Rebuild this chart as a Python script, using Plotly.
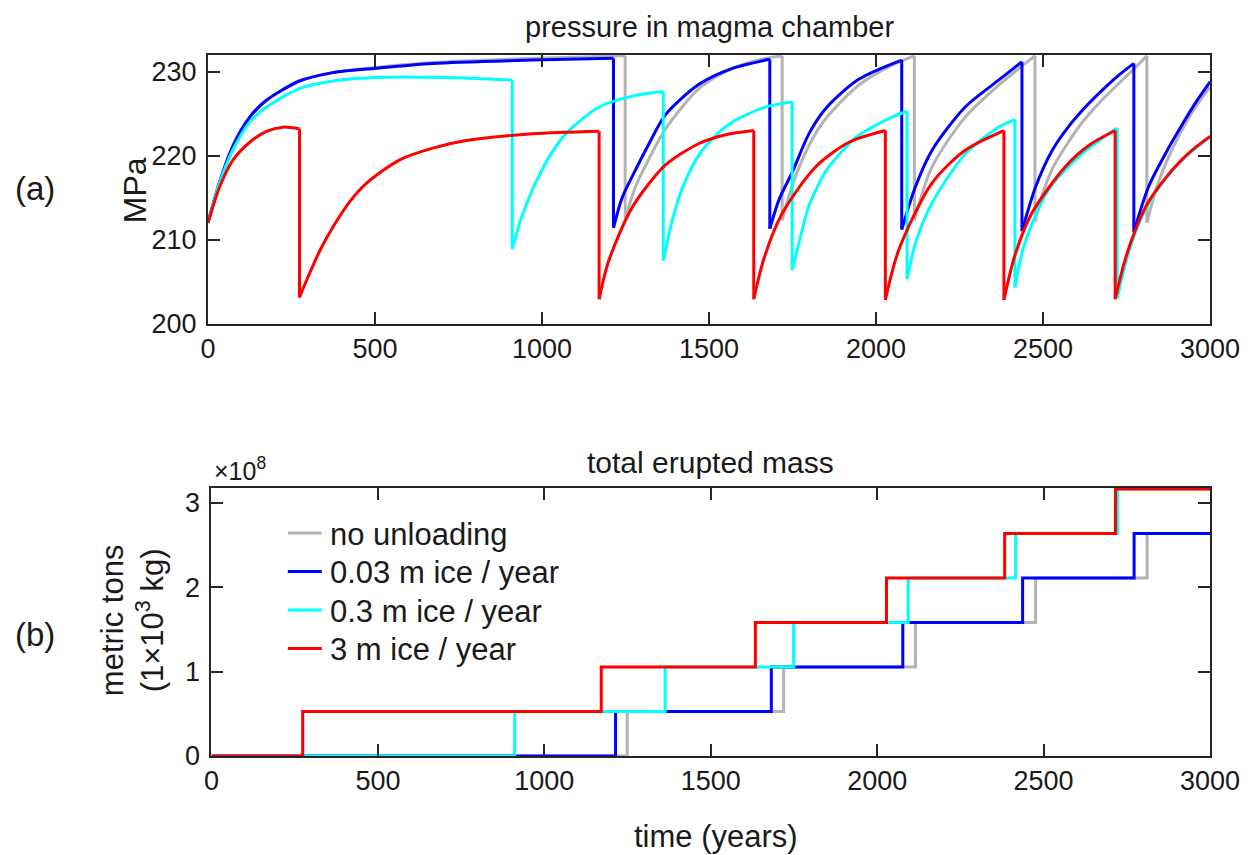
import plotly.graph_objects as go

# ---------------- data ----------------
series_names = ["no unloading", "0.03 m ice / year", "0.3 m ice / year", "3 m ice / year"]
series_colors = ["#b3b3b3", "#0000ff", "#00ffff", "#ff0000"]

# pressure (MPa) segments between eruptions
gray_seg_t = [
    [0, 35, 76, 125, 175, 274, 374, 498, 673, 972, 1249],
    [1249, 1280, 1320, 1370, 1470, 1570, 1669, 1719],
    [1719, 1750, 1799, 1849, 1948, 2048, 2115],
    [2115, 2167, 2267, 2367, 2476],
    [2476, 2500, 2530, 2566, 2616, 2666, 2716, 2766, 2811],
    [2811, 2840, 2870, 2910, 2955, 3000],
]
gray_seg_p = [
    [212.0, 216.9, 221.3, 224.6, 226.6, 228.9, 229.9, 230.5, 231.1, 231.6, 231.9],
    [212.5, 216.3, 219.6, 223.2, 228.0, 230.4, 231.6, 231.9],
    [212.3, 216.5, 221.2, 224.4, 228.4, 230.8, 231.9],
    [212.3, 218.6, 224.6, 228.4, 231.9],
    [212.1, 215.6, 218.6, 221.0, 223.9, 226.2, 228.2, 230.1, 231.9],
    [212.0, 216.2, 219.3, 222.6, 225.7, 228.2],
]
blue_seg_t = [
    [0, 35, 76, 125, 175, 274, 374, 498, 673, 972, 1214],
    [1214, 1240, 1271, 1320, 1370, 1470, 1570, 1682],
    [1682, 1710, 1749, 1799, 1849, 1948, 2077],
    [2077, 2118, 2167, 2267, 2367, 2437],
    [2437, 2478, 2527, 2577, 2627, 2680, 2727, 2772],
    [2772, 2816, 2866, 2915, 2960, 3000],
]
blue_seg_p = [
    [212.0, 216.9, 221.3, 224.6, 226.6, 228.9, 229.9, 230.4, 231.0, 231.4, 231.6],
    [211.4, 215.0, 217.6, 221.4, 224.9, 228.5, 230.4, 231.5],
    [211.3, 214.8, 218.0, 222.6, 225.6, 229.1, 231.4],
    [211.2, 216.3, 220.6, 225.8, 229.0, 231.2],
    [211.0, 216.3, 220.6, 223.5, 225.8, 227.9, 229.6, 231.0],
    [210.9, 216.3, 220.2, 223.6, 226.5, 228.8],
]
cyan_seg_t = [
    [0, 35, 76, 125, 175, 274, 374, 524, 673, 800, 911],
    [911, 940, 972, 1021, 1071, 1171, 1271, 1363],
    [1363, 1390, 1420, 1470, 1520, 1570, 1669, 1749],
    [1749, 1775, 1799, 1849, 1900, 1948, 2048, 2093],
    [2093, 2120, 2167, 2267, 2367, 2416],
    [2416, 2445, 2516, 2616, 2722],
    [2722, 2750, 2785, 2816, 2866, 2915, 2960, 3000],
]
cyan_seg_p = [
    [212.0, 216.8, 220.8, 224.0, 225.8, 228.0, 228.9, 229.35, 229.35, 229.2, 229.0],
    [208.9, 212.8, 216.0, 219.8, 222.6, 225.8, 227.1, 227.65],
    [207.5, 212.3, 216.1, 220.1, 222.4, 224.0, 225.8, 226.4],
    [206.4, 210.5, 214.0, 218.1, 220.6, 222.4, 224.6, 225.3],
    [205.3, 209.8, 214.3, 220.2, 223.4, 224.3],
    [204.3, 209.5, 215.9, 220.2, 223.3],
    [203.0, 207.6, 211.7, 214.3, 217.2, 219.4, 221.0, 222.2],
]
red_seg_t = [
    [0, 35, 75, 125, 175, 225, 274],
    [274, 300, 335, 374, 424, 474, 574, 673, 773, 972, 1171],
    [1171, 1200, 1271, 1370, 1470, 1550, 1634],
    [1634, 1665, 1719, 1819, 1919, 2028],
    [2028, 2068, 2167, 2267, 2383],
    [2383, 2415, 2466, 2566, 2640, 2716],
    [2716, 2745, 2780, 2816, 2866, 2915, 2960, 3000],
]
red_seg_p = [
    [212.0, 216.3, 219.5, 221.6, 222.9, 223.4, 223.2],
    [203.1, 205.6, 208.7, 211.5, 214.5, 216.7, 219.5, 220.9, 221.8, 222.6, 222.9],
    [202.9, 207.5, 213.9, 218.9, 221.45, 222.5, 223.0],
    [202.9, 207.8, 213.1, 218.65, 221.6, 223.0],
    [202.8, 208.75, 216.7, 220.65, 223.0],
    [202.8, 208.0, 213.1, 218.65, 221.3, 223.0],
    [202.9, 207.5, 211.5, 214.5, 217.3, 219.5, 221.1, 222.3],
]

# cumulative erupted mass (metric tons)
gray_erupt_t = [1249, 1719, 2115, 2476, 2811]
blue_erupt_t = [1214, 1682, 2077, 2437, 2772]
cyan_erupt_t = [911, 1363, 1749, 2093, 2416, 2722]
red_erupt_t = [274, 1171, 1634, 2028, 2383, 2716]
mass_levels = [0.527e8, 1.054e8, 1.581e8, 2.108e8, 2.636e8, 3.163e8]

t_start, t_end = 0, 3000

# ---------------- figure ----------------
OFF = 8  # page body margin
W, H = 1252 - OFF, 855 - OFF
ML, MT = 208 - OFF, 55 - OFF
MR = W - (1212 - OFF)
MB = H - (756 - OFF)
PW, PH = W - ML - MR, H - MT - MB


def px(x):  # reference page pixel -> paper x
    return (x - OFF - ML) / PW


def py(y):  # reference page pixel -> paper y
    return (H - MB - (y - OFF)) / PH


fig = go.Figure()
all_t = [gray_seg_t, blue_seg_t, cyan_seg_t, red_seg_t]
all_p = [gray_seg_p, blue_seg_p, cyan_seg_p, red_seg_p]
all_e = [gray_erupt_t, blue_erupt_t, cyan_erupt_t, red_erupt_t]
LW = 3

for name, col, segt, segp in zip(series_names, series_colors, all_t, all_p):
    xs, ys = [], []
    for st, sp in zip(segt, segp):
        xs += st + [None]
        ys += sp + [None]
    fig.add_trace(go.Scatter(x=xs, y=ys, mode="lines", line=dict(color=col, width=LW, shape="spline", smoothing=0.8),
                             showlegend=False, hoverinfo="skip", xaxis="x", yaxis="y"))
    dx, dy = [], []
    for k in range(len(segt) - 1):
        dx += [segt[k][-1], segt[k + 1][0], None]
        dy += [segp[k][-1], segp[k + 1][0], None]
    fig.add_trace(go.Scatter(x=dx, y=dy, mode="lines", line=dict(color=col, width=LW),
                             showlegend=False, hoverinfo="skip", xaxis="x", yaxis="y"))

for name, col, et in zip(series_names, series_colors, all_e):
    xs = [t_start] + et + [t_end]
    ys = [0] + mass_levels[:len(et)] + [mass_levels[len(et) - 1]]
    fig.add_trace(go.Scatter(x=xs, y=ys, mode="lines", name=name, showlegend=False,
                             line=dict(color=col, width=LW, shape="hv"),
                             xaxis="x2", yaxis="y2"))

axcol = "#262626"
TXT = "#1a1a1a"
FONT = "Liberation Sans, Arial, Helvetica, sans-serif"
tickfont = dict(family=FONT, size=27, color=TXT)
common = dict(showline=True, linecolor=axcol, linewidth=2, mirror="ticks", ticks="inside",
              ticklen=12, tickwidth=2, tickcolor=axcol, showgrid=False, zeroline=False,
              tickfont=tickfont)

fig.update_layout(
    width=W, height=H,
    margin=dict(l=ML, r=MR, t=MT, b=MB),
    paper_bgcolor="white", plot_bgcolor="white",
    font=dict(family=FONT, size=30, color=TXT),
    xaxis=dict(domain=[0, 1], range=[0, 3000], tickvals=[0, 500, 1000, 1500, 2000, 2500, 3000],
               anchor="y", **common),
    yaxis=dict(domain=[py(323.5), 1], range=[200, 232], tickvals=[200, 210, 220, 230],
               anchor="x", ticklabelstandoff=4, **common),
    xaxis2=dict(domain=[px(211.5), 1], range=[0, 3000], tickvals=[0, 500, 1000, 1500, 2000, 2500, 3000],
                anchor="y2", **common),
    yaxis2=dict(domain=[0, py(487.5)], range=[0, 3.18e8], tickvals=[0, 1e8, 2e8, 3e8],
                ticktext=["0", "1", "2", "3"], anchor="x2", ticklabelstandoff=4, **common),
    showlegend=False,
)

# legend (drawn as keys + labels inside the lower panel)
legend_rows = [533, 571.5, 610, 648.5]
for name, col, yrow in zip(series_names, series_colors, legend_rows):
    fig.add_shape(type="line", xref="paper", yref="paper", x0=px(288), x1=px(322), y0=py(yrow), y1=py(yrow),
                  line=dict(color=col, width=LW))
    fig.add_annotation(xref="paper", yref="paper", showarrow=False, xanchor="left", yanchor="middle",
                       text=name, x=px(328), y=py(yrow + 1), font=dict(family=FONT, size=31, color=TXT))

ann = [
    dict(text="total erupted mass", x=px(712), y=py(462), size=30),
    dict(text="MPa", x=px(135), y=py(190), textangle=-90, size=32),
    dict(text="(a)", x=px(35), y=py(188), size=33),
    dict(text="(b)", x=px(35), y=py(634), size=33),
    dict(text="metric tons<br>(1×10<sup>3</sup> kg)", x=px(132), y=py(620), textangle=-90, size=31),
    dict(text="time (years)", x=px(717), y=py(836), size=31),
]
for a in ann:
    sz = a.pop("size")
    fig.add_annotation(xref="paper", yref="paper", showarrow=False, xanchor="center", yanchor="middle",
                       font=dict(family=FONT, size=sz, color=TXT), **a)
fig.add_annotation(xref="paper", yref="paper", showarrow=False, xanchor="center", yanchor="top",
                   text="pressure in magma chamber", x=px(710), y=py(9),
                   font=dict(family=FONT, size=29, color=TXT))
fig.add_annotation(xref="paper", yref="paper", showarrow=False, xanchor="left", yanchor="middle",
                   text="×10<sup>8</sup>", x=px(212), y=py(469), font=dict(family=FONT, size=25, color=TXT))

fig.write_html("out.html")
